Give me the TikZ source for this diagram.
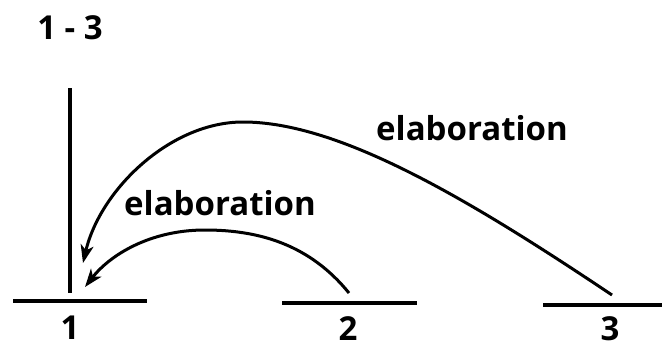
\documentclass[tikz,border=0pt]{standalone}
\usepackage{fontspec}
\setmainfont{Open Sans}
\usetikzlibrary{arrows.meta}
\begin{document}
\begin{tikzpicture}[
    x=1pt, y=-1pt,
    every node/.style={font=\fontsize{33}{40}\selectfont\bfseries, inner sep=0pt},
    seg/.style={line width=4pt},
    rel/.style={line width=3pt, -{Stealth[length=18pt, width=13pt, inset=5pt]}},
  ]
    \useasboundingbox (0,0) rectangle (670,348);
    %% Title
    \node (title) at (70,28) {1 - 3};
    %% Segments and their numbers
    \coordinate (s1w) at (13,301);  \coordinate (s1e) at (147,301);
    \coordinate (s2w) at (282,303); \coordinate (s2e) at (417,303);
    \coordinate (s3w) at (543,305); \coordinate (s3e) at (662,305);
    \draw[seg] (s1w) -- (s1e);
    \draw[seg] (s2w) -- (s2e);
    \draw[seg] (s3w) -- (s3e);
    \node[anchor=base] (lab1) at (70,339) {1};
    \node[anchor=base] (lab2) at (348,340) {2};
    \node[anchor=base] (lab3) at (610,340) {3};
    %% Vertical bar over segment 1
    \coordinate (top) at (70,88);
    \coordinate (bot) at (70,293);
    \draw[seg] (top) -- (bot);
    %% Relations
    \coordinate (from3) at (612,295);
    \coordinate (to3) at (83,263);
    \coordinate (from2) at (349,293);
    \coordinate (to2) at (85,287);
    \draw[rel] (from3) .. controls (470,200) and (340,122) .. (243,122)
      .. controls (170,122) and (100,190) .. (to3);
    \draw[rel] (from2) .. controls (310,245) and (260,230) .. (205,230)
      .. controls (150,230) and (110,255) .. (to2);
    \node (relA) at (472,128) {elaboration};
    \node (relB) at (220,203) {elaboration};
  \end{tikzpicture}
\end{document}
